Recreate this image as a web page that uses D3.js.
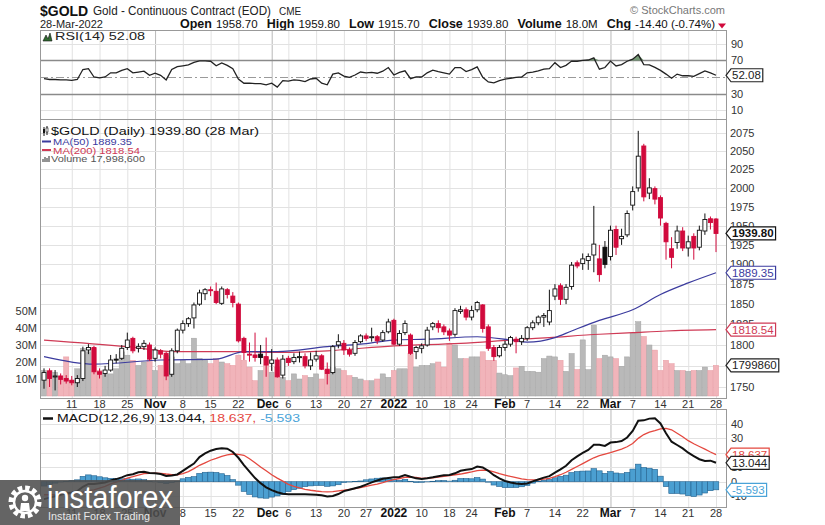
<!DOCTYPE html>
<html><head><meta charset="utf-8">
<script src="https://cdn.jsdelivr.net/npm/d3@7"></script>
<style>body{margin:0;background:#fff;overflow:hidden}svg text{font-family:Arial,"Liberation Sans",sans-serif}</style>
</head><body><svg id="c" width="825" height="525"></svg>
<script>
// ---------------- DATA ----------------
const octDays=[4,5,6,7,8,11,12,13,14,15,18,19,20,21,22,25,26,27,28,29];
const novDays=[1,2,3,4,5,8,9,10,11,12,15,16,17,18,19,22,23,24,26,29,30];
const decDays=[1,2,3,6,7,8,9,10,13,14,15,16,17,20,21,22,23,27,28,29,30,31];
const janDays=[3,4,5,6,7,10,11,12,13,14,18,19,20,21,24,25,26,27,28,31];
const febDays=[1,2,3,4,7,8,9,10,11,14,15,16,17,18,22,23,24,25,28];
const marDays=[1,2,3,4,7,8,9,10,11,14,15,16,17,18,21,22,23,24,25,28];

const opens=[1758,1769,1762,1763,1760,1758,1755,1760,1794,1797,1768,1766,1770,1783,1784,1797,1808,1796,1798,1800,
1784,1793,1790,1765,1793,1818,1826,1833,1850,1863,1868,1866,1851,1868,1860,1850,1808,1789,1788,1789,
1786,1778,1782,1764,1784,1780,1785,1786,1775,1783,1787,1771,1767,1800,1802,1794,1790,1804,1811,1809,
1810,1806,1816,1830,1801,1815,1812,1792,1796,1800,1822,1826,1822,1817,1813,1841,1843,1834,1843,1849,
1822,1797,1787,1797,1801,1807,1804,1808,1821,1827,1834,1828,1860,1873,1856,1872,1902,1901,1905,1912,
1907,1922,1910,1945,1933,1938,1977,2000,2057,1993,1999,1987,1953,1920,1928,1943,1921,1936,1922,1943,1959,1958.7];
const highs=[1772,1772,1770,1766,1764,1763,1764,1798,1801,1799,1772,1775,1788,1789,1800,1815,1810,1802,1806,1803,
1797,1795,1792,1796,1820,1830,1834,1852,1868,1870,1872,1877,1872,1870,1865,1852,1810,1803,1815,1800,
1809,1795,1785,1788,1787,1790,1792,1790,1791,1793,1789,1779,1800,1813,1806,1797,1806,1813,1814,1821,
1812,1818,1832,1832,1818,1830,1814,1799,1802,1822,1828,1830,1825,1820,1845,1848,1846,1848,1854,1850,
1825,1800,1800,1805,1811,1810,1812,1823,1830,1836,1839,1868,1875,1876,1875,1903,1905,1914,1914,1976,
1925,1930,1950,1950,1946,1970,2002,2078,2060,2013,2002,1990,1955,1935,1950,1948,1937,1940,1950,1966,1962,1959.8];
const lows=[1748,1750,1746,1753,1754,1752,1750,1757,1789,1765,1760,1762,1768,1778,1782,1794,1790,1791,1794,1781,
1780,1784,1758,1762,1790,1814,1822,1820,1848,1855,1860,1850,1849,1857,1846,1803,1782,1780,1780,1777,
1762,1769,1761,1760,1775,1777,1779,1772,1770,1780,1770,1753,1765,1796,1788,1786,1787,1802,1805,1804,
1801,1804,1814,1800,1799,1812,1788,1783,1790,1798,1818,1815,1812,1805,1810,1838,1830,1830,1840,1815,
1793,1781,1785,1793,1798,1790,1800,1805,1818,1824,1822,1824,1855,1849,1850,1868,1895,1893,1893,1890,
1878,1895,1905,1912,1925,1935,1970,1995,1982,1985,1978,1950,1906,1895,1920,1917,1910,1906,1918,1938,1945,1915.7];
const closes=[1767,1760,1763,1759,1757,1755,1760,1793,1797,1768,1765,1770,1782,1782,1796,1806,1793,1798,1802,1783,
1794,1789,1763,1793,1818,1826,1832,1849,1864,1868,1867,1852,1869,1862,1852,1805,1791,1788,1785,1785,
1776,1782,1762,1783,1779,1785,1786,1775,1782,1787,1771,1766,1798,1804,1794,1789,1803,1811,1808,1810,
1805,1815,1828,1801,1814,1826,1790,1797,1799,1818,1826,1821,1816,1812,1842,1843,1834,1842,1852,1820,
1796,1786,1797,1801,1809,1804,1808,1821,1827,1834,1836,1842,1869,1856,1871,1899,1898,1907,1910,1926,
1887,1900,1944,1922,1936,1966,1995,2043,1988,2000,1985,1960,1929,1909,1943,1921,1929,1921,1944,1958,1954,1939.8];
const volumes=[15,15,14,10,23,9,16,28,26,28,15,13,13,16,26,24,21,18,20,21,
15,18,24,23,19,21,19,34,22,21,19,22,20,19,18,24,21,17,9,15,
23,14,17,11,9,13,10,12,11,13,10,15,17,16,15,12,11,10,9,9,
10,13,11,15,16,16,25,17,18,18,19,20,17,31,30,22,22,23,23,26,
21,21,13.5,12.5,12,16.5,17.5,14.5,14.5,14,22,23.5,23,21,14.5,25,15.6,33,15.5,41.7,
22,24,23,22,17.5,23,37,43.7,35,30,27,15,21,19,15,15,14.5,15,15,17,15,18];

const rsi=[48,47,47,46.5,46.5,46,47,59,60,50,49,50,55,55,58,60,55,56,57,52,
54.5,52,46.5,59,62.5,63.5,64.5,67.5,69.5,69.5,69,63.5,67,64,60,47.5,42.5,42.5,42,42,
40.6,42.5,37.8,45.7,45,46.5,46,44.5,47.6,48.5,42.5,40.6,53.5,55,51,49.5,52.4,56,55,55.5,
54.5,57,61.4,52.4,55.5,57.4,48,50,50,55,58.2,56.5,55,53.5,61.4,61.4,56.5,59,62.2,49.6,
44,43,45.7,47.5,48.5,49.6,50,55,56,57.4,59.4,60,67.3,61.4,64,69.2,69,70,70.5,73,
59.4,61.4,69.2,63.3,65,69,71.5,77,65,64.5,61.5,58,53.5,48.5,53.5,51.5,51.5,50.7,54,57.4,55,52.08];

const macdLine=[-12,-11,-10,-9,-8.2,-7.4,-6.5,-3.5,-1.5,-1.5,-1,-0.5,0.8,1.8,3,4.5,5.2,6.5,6.9,6,
5.8,5.3,4,4.3,5,7.5,10,12.5,17,19.5,21.4,22.5,23,22.8,20.5,16.5,11.5,7,2.5,-1,
-3.9,-5.8,-7.3,-8.3,-8.6,-8.7,-8.7,-8.7,-8.8,-9,-9.4,-10.2,-9.8,-8.5,-6.5,-5.5,-4.5,-3.5,-2,-0.5,
0.8,2,2.5,3,3.2,4.6,3.4,2.3,1.9,2.4,3,3.8,4.4,4.6,5.8,7.5,8.2,8.7,10.5,9.8,
7.5,4.5,2.3,0.5,-0.5,-1.2,-1.6,-1.2,0.2,1.5,2.8,3.8,6.2,8.5,11,14.8,17.5,19.8,21.9,25.5,
25.5,24.7,27,27.3,28,30.5,35,42,42.3,43.5,43.7,40.2,33.4,27.6,25.3,23,20,17.7,15.5,14.3,14.5,13.044];
const signalLine=[-9,-9,-9,-8.8,-8.5,-8.2,-7.8,-7.2,-6.2,-5.6,-4.4,-3.2,-1.5,-0.3,1,2.5,3.5,4.6,5.5,5.7,
5.9,5.8,5.3,4.9,4.8,5.5,7,9,11.3,13,14.8,16.1,17.5,18.5,19.1,18.9,18.2,15.8,13,10.2,
7.5,4.8,2.5,0.4,-1.8,-3.2,-4.2,-5.3,-5.9,-6.4,-6.8,-7,-6.9,-6.4,-5.9,-5.3,-4.7,-4,-3.3,-2.4,
-1.6,-0.6,0.5,1.5,2.2,3,3.1,2.9,2.3,2.5,2.7,3.1,3.6,4.2,4.8,5.3,6,6.7,7.6,8,
7.8,6.8,5.6,4.6,3.6,2.8,1.9,1.4,1.2,1.3,1.8,2.3,3.5,4.8,6.5,8.5,10.5,12.5,14.5,16.5,
18,19,20,21.3,22.5,24.1,26.3,29.9,32.5,34.2,35.2,36.4,36.8,35.8,33.4,31,28.3,26.2,24.3,22.5,20.5,18.637];
const histogram=[-3,-2,-1,-0.2,0.3,0.8,1.3,3.7,4.7,4.1,3.4,2.7,2.3,2.1,2,2,1.7,1.9,1.4,0.3,
-0.1,-0.5,-1.3,-0.6,0.2,2,3,3.5,5.7,6.5,6.6,6.4,5.5,4.3,1.4,-2.4,-6.7,-8.8,-10.5,-11.2,
-11.4,-10.6,-9.8,-8.7,-6.8,-5.5,-4.5,-3.4,-2.9,-2.6,-2.6,-3.2,-2.9,-2.1,-0.6,-0.2,0.2,0.5,1.3,1.9,
2.4,2.6,2,1.5,1,1.6,0.3,-0.6,-0.4,-0.1,0.3,0.7,0.8,0.4,1,2.2,2.2,2,2.9,1.8,
-0.3,-2.3,-3.3,-4.1,-4.1,-4,-3.5,-2.6,-1,0.2,1,1.5,2.7,3.7,4.5,6.3,7,7.3,7.4,9,
7.5,5.7,7,6,5.5,6.4,8.7,12.1,9.8,9.3,8.5,3.8,-3.4,-8.2,-8.1,-8.5,-9.6,-10.2,-9.2,-7.8,-6.2,-5.593];

const ma50At=[0,9,21,31,36,42,51,57,63,69,78,84,87,92,95,100,106,111,116,121];
const ma50Vals=[1786,1777,1782,1783,1792,1792,1798,1801,1806,1807,1810,1806,1803.5,1809,1817,1830,1843,1862,1876.5,1889.35];
const ma200At=[0,15,24,34,43,51,63,75,84,91,100,106,112,121];
const ma200Vals=[1806,1798,1792,1792,1791,1793,1799,1802,1806,1809,1813,1815,1817,1818.54];

const tickDates=["2021-10-11","2021-10-18","2021-10-25","2021-11-01","2021-11-08","2021-11-15","2021-11-22","2021-12-01","2021-12-06","2021-12-13","2021-12-20","2021-12-27","2022-01-03","2022-01-10","2022-01-18","2022-01-24","2022-02-01","2022-02-07","2022-02-14","2022-02-22","2022-03-01","2022-03-07","2022-03-14","2022-03-21","2022-03-28"];
const tickLabels=["11","18","25","Nov","8","15","22","Dec","6","13","20","27","2022","10","18","24","Feb","7","14","22","Mar","7","14","21","28"];
const priceTicks=[1750,1775,1800,1825,1850,1875,1900,1925,1950,1975,2000,2025,2050,2075];
const priceLabelTicks=[1750,1800,1825,1850,1875,1900,1925,1950,1975,2000,2025,2050,2075];
const volTicks=[10,20,30,40,50];
const rsiTicks=[10,30,50,70,90];
const rsiLabelTicks=[10,30,70,90];
const macdTicks=[-10,0,10,20,30,40];
const macdLabelTicks=[-10,0,10,30,40];

// ---------------- SETUP ----------------
const pad=d=>String(d).padStart(2,"0");
const dates=[].concat(
  octDays.map(d=>"2021-10-"+pad(d)),novDays.map(d=>"2021-11-"+pad(d)),decDays.map(d=>"2021-12-"+pad(d)),
  janDays.map(d=>"2022-01-"+pad(d)),febDays.map(d=>"2022-02-"+pad(d)),marDays.map(d=>"2022-03-"+pad(d)));
const svg=d3.select("#c");
const L=40,R=726;
const RSI={t:30,b:119},MAIN={t:119,b:398},MACD={t:409,b:507};
const RED="#d10a3c",GRID="#e2e2e2",MAJ="#b9b9b9",AX="#333";

const x=d3.scalePoint().domain(dates).range([44,716]);
const yP=d3.scaleLog().domain([1750,2075]).range([387,133]);
const yV=d3.scaleLinear().domain([0,50]).range([396,311]);
const yR=d3.scaleLinear().domain([0,100]).range([118.5,35.5]);
const yM=d3.scaleLinear().domain([-10,40]).range([496.2,423.7]);

const defs=svg.append("defs");
[["cR",RSI],["cM",MAIN],["cD",MACD]].forEach(([id,p])=>{
  defs.append("clipPath").attr("id",id).append("rect").attr("x",L).attr("y",p.t).attr("width",R-L).attr("height",p.b-p.t);
});

[RSI,MAIN,MACD].forEach(p=>{
  svg.append("rect").attr("x",L).attr("y",p.t).attr("width",R-L).attr("height",p.b-p.t).attr("fill","#fff");
  tickDates.forEach((d,k)=>{
    const major=!/^\d{1,2}$/.test(tickLabels[k]);
    svg.append("line").attr("x1",x(d)+0.5).attr("x2",x(d)+0.5).attr("y1",p.t).attr("y2",p.b)
      .attr("stroke",major?MAJ:GRID).attr("stroke-width",1);
  });
});

// ---------------- HEADER ----------------
svg.append("text").attr("x",40).attr("y",16).attr("font-size",14).attr("font-weight","bold").attr("fill","#111").text("$GOLD");
svg.append("text").attr("x",93).attr("y",15).attr("font-size",12).attr("fill","#222")
  .attr("textLength",178).attr("lengthAdjust","spacingAndGlyphs").text("Gold - Continuous Contract (EOD)");
svg.append("text").attr("x",279).attr("y",15).attr("font-size",10).attr("fill","#222").text("CME");
svg.append("text").attr("x",40).attr("y",28).attr("font-size",11).attr("fill","#222").text("28-Mar-2022");
const hdrPairs=[["Open","1958.70"],["High","1959.80"],["Low","1915.70"],["Close","1939.80"],["Volume","18.0M"],["Chg","-14.40 (-0.74%)"]];
const hNodes=hdrPairs.map(([a,b])=>[
  svg.append("text").attr("y",28).attr("font-size",12.5).attr("font-weight","bold").attr("fill","#111").text(a),
  svg.append("text").attr("y",28).attr("font-size",11.5).attr("fill","#111").text(b)]);
const hw=hNodes.map(p=>p.map(n=>n.node().getComputedTextLength()));
const inner=4,sumW=d3.sum(hw,p=>p[0]+p[1])+inner*hw.length;
const gap=(715-180-sumW)/(hw.length-1);
let hx=180;
hNodes.forEach((p,k)=>{p[0].attr("x",hx);hx+=hw[k][0]+inner;p[1].attr("x",hx);hx+=hw[k][1]+gap;});
svg.append("path").attr("d","M718,23.5 L726,23.5 L722,28.5 Z").attr("fill",RED);
svg.append("text").attr("x",725).attr("y",14).attr("text-anchor","end").attr("font-size",11).attr("fill","#777").text("\u00A9 StockCharts.com");

// ---------------- RSI PANEL ----------------
rsiTicks.forEach(v=>{
  const y=Math.round(yR(v))+0.5;
  if(v===30||v===70) svg.append("line").attr("x1",L).attr("x2",R).attr("y1",y).attr("y2",y).attr("stroke","#8a8a8a").attr("stroke-width",1.6);
  else if(v===50) svg.append("line").attr("x1",L).attr("x2",R).attr("y1",y).attr("y2",y).attr("stroke","#9a9a9a").attr("stroke-dasharray","8,3,2,3");
  else svg.append("line").attr("x1",L).attr("x2",R).attr("y1",y).attr("y2",y).attr("stroke",GRID);
});
rsiLabelTicks.forEach(v=>svg.append("text").attr("x",731).attr("y",yR(v)+4).attr("font-size",11).attr("fill",AX).text(v));
const gR=svg.append("g").attr("clip-path","url(#cR)");
gR.append("path").datum(rsi).attr("fill","#5e8a5e").attr("opacity",0.85)
  .attr("d",d3.area().x((v,i)=>x(dates[i])).y0(yR(70)).y1(v=>yR(Math.max(v,70))));
gR.append("path").datum(rsi).attr("fill","none").attr("stroke","#222").attr("stroke-width",1.3)
  .attr("d",d3.line().x((v,i)=>x(dates[i])).y(v=>yR(v)));
svg.append("path").attr("d","M43,41 L46,35 L48,39 L50,33 L52,41 Z").attr("fill","#2f6b2f").attr("stroke","#111").attr("stroke-width",0.6);
svg.append("text").attr("x",55).attr("y",40).attr("font-family","DejaVu Sans Mono").attr("font-size",11.5)
  .attr("textLength",90).attr("lengthAdjust","spacingAndGlyphs").attr("fill","#222").text("RSI(14) 52.08");

// ---------------- MAIN PANEL ----------------
priceTicks.forEach(v=>{
  const y=Math.round(yP(v))+0.5;
  svg.append("line").attr("x1",L).attr("x2",R).attr("y1",y).attr("y2",y).attr("stroke",GRID);
});
priceLabelTicks.forEach(v=>svg.append("text").attr("x",730).attr("y",yP(v)+4).attr("font-size",11).attr("fill",AX).text(v));
volTicks.forEach(v=>{
  svg.append("text").attr("x",37).attr("y",yV(v)+4).attr("text-anchor","end").attr("font-size",11).attr("fill",AX).text(v+"M");
});
const gM=svg.append("g").attr("clip-path","url(#cM)");
const isDown=i=>i>0&&closes[i]<closes[i-1];
gM.selectAll("rect.vol").data(dates).join("rect").attr("class","vol")
  .attr("x",d=>x(d)-2.6).attr("width",5.2)
  .attr("y",(d,i)=>yV(volumes[i])).attr("height",(d,i)=>yV(0)-yV(volumes[i]))
  .attr("fill",(d,i)=>isDown(i)?"#f1b4ba":"#b9b9b9")
  .attr("stroke",(d,i)=>isDown(i)?"#e79aa2":"#a3a3a3").attr("stroke-width",0.5);
const lineMA=d3.line().curve(d3.curveMonotoneX).x(p=>x(dates[p[0]])).y(p=>yP(p[1]));
gM.append("path").datum(ma200At.map((i,k)=>[i,ma200Vals[k]])).attr("fill","none").attr("stroke","#cf3a55").attr("stroke-width",1.2).attr("d",lineMA);
gM.append("path").datum(ma50At.map((i,k)=>[i,ma50Vals[k]])).attr("fill","none").attr("stroke","#3b3b9e").attr("stroke-width",1.2).attr("d",lineMA);
const cg=gM.selectAll("g.cdl").data(dates).join("g").attr("class","cdl");
const col=i=>isDown(i)?RED:"#111";
cg.append("line").attr("x1",d=>x(d)).attr("x2",d=>x(d))
  .attr("y1",(d,i)=>yP(highs[i])).attr("y2",(d,i)=>yP(lows[i])).attr("stroke",(d,i)=>col(i)).attr("stroke-width",1);
cg.append("rect").attr("x",d=>x(d)-2).attr("width",4)
  .attr("y",(d,i)=>yP(Math.max(opens[i],closes[i])))
  .attr("height",(d,i)=>Math.max(1,Math.abs(yP(opens[i])-yP(closes[i]))))
  .attr("fill",(d,i)=>closes[i]>=opens[i]?"#fff":col(i))
  .attr("stroke",(d,i)=>col(i)).attr("stroke-width",0.9);
// legend
svg.append("path").attr("d","M44,127v9M47,126v9").attr("stroke","#111").attr("stroke-width",1);
svg.append("rect").attr("x",43).attr("y",129).attr("width",2).attr("height",4).attr("fill","#111");
svg.append("rect").attr("x",46).attr("y",128).attr("width",2).attr("height",4).attr("fill","#fff").attr("stroke","#111").attr("stroke-width",0.6);
svg.append("text").attr("x",51).attr("y",135).attr("font-family","DejaVu Sans Mono").attr("font-size",11)
  .attr("textLength",208).attr("lengthAdjust","spacingAndGlyphs").attr("fill","#111").text("$GOLD (Daily) 1939.80 (28 Mar)");
[["MA(50) 1889.35","#3b3b9e",145,79],["MA(200) 1818.54","#cf3a55",153.5,87]].forEach(([t,c,y,w])=>{
  svg.append("line").attr("x1",42).attr("x2",51).attr("y1",y-3.5).attr("y2",y-3.5).attr("stroke",c).attr("stroke-width",2);
  svg.append("text").attr("x",53).attr("y",y).attr("font-family","DejaVu Sans").attr("font-size",9.5)
    .attr("textLength",w).attr("lengthAdjust","spacingAndGlyphs").attr("fill",c).text(t);
});
svg.append("path").attr("d","M43,162v-3M45,162v-5M47,162v-4M49,162v-6").attr("stroke","#666").attr("stroke-width",1.4);
svg.append("text").attr("x",51).attr("y",162).attr("font-family","DejaVu Sans").attr("font-size",9.5)
  .attr("textLength",94).attr("lengthAdjust","spacingAndGlyphs").attr("fill","#555").text("Volume 17,998,600");

// ---------------- MACD PANEL ----------------
macdTicks.forEach(v=>{
  const y=Math.round(yM(v))+0.5;
  svg.append("line").attr("x1",L).attr("x2",R).attr("y1",y).attr("y2",y).attr("stroke",GRID);
});
macdLabelTicks.forEach(v=>svg.append("text").attr("x",731).attr("y",yM(v)+4).attr("font-size",11).attr("fill",AX).text(v));
const gD=svg.append("g").attr("clip-path","url(#cD)");
gD.selectAll("rect.h").data(dates).join("rect").attr("class","h")
  .attr("x",d=>x(d)-2.78).attr("width",5.55)
  .attr("y",(d,i)=>Math.min(yM(0),yM(histogram[i]))).attr("height",(d,i)=>Math.abs(yM(histogram[i])-yM(0)))
  .attr("fill","#4b9fd1").attr("stroke","#23628f").attr("stroke-width",0.6);
gD.append("path").datum(signalLine).attr("fill","none").attr("stroke","#e4483f").attr("stroke-width",1.3)
  .attr("d",d3.line().x((v,i)=>x(dates[i])).y(v=>yM(v)));
gD.append("path").datum(macdLine).attr("fill","none").attr("stroke","#111").attr("stroke-width",2)
  .attr("d",d3.line().x((v,i)=>x(dates[i])).y(v=>yM(v)));
svg.append("line").attr("x1",43).attr("x2",53).attr("y1",418.5).attr("y2",418.5).attr("stroke","#111").attr("stroke-width",2.5);
const ml=svg.append("text").attr("x",57).attr("y",422).attr("font-family","DejaVu Sans Mono").attr("font-size",11.5)
  .attr("textLength",243).attr("lengthAdjust","spacingAndGlyphs");
ml.append("tspan").attr("fill","#111").text("MACD(12,26,9) 13.044,");
ml.append("tspan").attr("fill","#e4483f").text(" 18.637,");
ml.append("tspan").attr("fill","#4aa3d8").text(" -5.593");

// ---------------- X AXES ----------------
[408,517].forEach(yy=>{
  tickDates.forEach((d,k)=>{
    const t=tickLabels[k],b=!/^\d{1,2}$/.test(t);
    svg.append("text").attr("x",x(d)+(t==="Dec"?-4:0)).attr("y",yy).attr("text-anchor","middle")
      .attr("font-size",b?12:11).attr("font-weight",b?"bold":"normal").attr("fill",b?"#111":AX).text(t);
  });
});

[RSI,MAIN,MACD].forEach(p=>svg.append("rect").attr("x",L+0.5).attr("y",p.t+0.5).attr("width",R-L).attr("height",p.b-p.t)
  .attr("fill","none").attr("stroke","#999"));

// ---------------- VALUE BOXES ----------------
function vbox(y,txt,color,bold){
  const g=svg.append("g");
  const p=g.append("path");
  const t=g.append("text").attr("x",732).attr("y",y+4).attr("font-size",11.5).attr("font-weight",bold?"bold":"normal").attr("fill",color).text(txt);
  const w=t.node().getComputedTextLength();
  const x0=726,x1=731,x2=734+w,h=6.5;
  p.attr("d",`M${x0},${y} L${x1},${y-h} L${x2},${y-h} L${x2},${y+h} L${x1},${y+h} Z`).attr("fill","#fff").attr("stroke",color).attr("stroke-width",1.2);
}
vbox(yR(52.08),"52.08","#222",false);
vbox(yP(1939.8),"1939.80","#111",true);
vbox(yP(1889.35),"1889.35","#3b3b9e",false);
vbox(yP(1818.54),"1818.54","#cf3a55",false);
vbox(yV(18),"1799860","#222",false);
vbox(yM(18.637),"18.637","#e4483f",false);
vbox(yM(13.044),"13.044","#222",false);
vbox(yM(-5.593),"-5.593","#4aa3d8",false);

// ---------------- WATERMARK ----------------
const wm=svg.append("g");
wm.append("rect").attr("x",0).attr("y",480).attr("width",180).attr("height",45).attr("fill","#4e4e4e").attr("opacity",0.88);
const gear=wm.append("g").attr("transform","translate(25,502)");
gear.append("circle").attr("r",14).attr("fill","none").attr("stroke","#fff").attr("stroke-width",5).attr("stroke-dasharray","4.4,2.9");
gear.append("circle").attr("r",11).attr("fill","none").attr("stroke","#fff").attr("stroke-width",2.5);
gear.append("circle").attr("cy",-4).attr("r",3.2).attr("fill","#fff");
gear.append("path").attr("d","M-5,9 L-4,1 L4,1 L5,9 Z").attr("fill","#fff");
wm.append("text").attr("x",47).attr("y",508).attr("font-size",31).attr("fill","#fff")
  .attr("textLength",126).attr("lengthAdjust","spacingAndGlyphs").text("instaforex");
wm.append("text").attr("x",48).attr("y",520).attr("font-size",11.5).attr("fill","#e8e8e8")
  .attr("textLength",102).attr("lengthAdjust","spacingAndGlyphs").text("Instant Forex Trading");
</script></body></html>
